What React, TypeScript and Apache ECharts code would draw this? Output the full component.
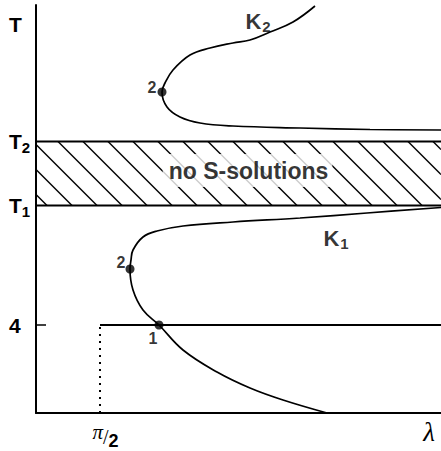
import React, { useEffect, useRef } from "react";
import * as echarts from "echarts";

// Plot extent (abstract units along λ and T)
const X_MAX = 405;
const Y_MAX = 408;

// Horizontal levels on the T axis
const T2_LEVEL = 271.5;
const T1_LEVEL = 207.5;
const T_FOUR = 88;
const T_TOP = 389;

// Positions on the λ axis
const LAMBDA_HALF_PI = 64;
const LAMBDA_LABEL_POS = 393;

// Branch K2 (above the forbidden band)
const k2Curve: [number, number][] = [
  [279, 407], [257, 391], [234, 381], [214, 373], [197, 370], [174, 365],
  [154, 358], [137, 343], [129, 330], [126, 321], [131, 306], [144, 296],
  [164, 290], [197, 287], [264, 285], [334, 283.5], [405, 283],
];

// Branch K1 (below the forbidden band)
const k1Curve: [number, number][] = [
  [405, 205.5], [331, 200], [264, 195], [197, 191], [147, 187], [121, 182],
  [107, 176], [97, 163], [95, 153], [94, 144], [97, 123], [107, 103],
  [123, 88], [147, 63], [181, 41], [214, 25], [247, 13], [291, 0],
];

// Marked points on the branches with their numbers
const markedX = [126, 94, 123];
const markedY = [321, 144, 88];
const markedText = ["2", "2", "1"];
const markedOffset: [number, number][] = [[-10, -5], [-9, -7], [-6, 13]];

// Hatching of the band between T1 and T2
const HATCH_FIRST = -53;
const HATCH_STEP = 25;

function buildHatch(): number[][] {
  const h = T2_LEVEL - T1_LEVEL;
  const segs: number[][] = [];
  for (let x0 = HATCH_FIRST; x0 <= X_MAX; x0 += HATCH_STEP) {
    let xa = x0;
    let ya = T2_LEVEL;
    let xb = x0 + h;
    let yb = T1_LEVEL;
    if (xa < 0) {
      ya = T2_LEVEL + xa;
      xa = 0;
    }
    if (xb > X_MAX) {
      yb = T1_LEVEL + (xb - X_MAX);
      xb = X_MAX;
    }
    if (xa >= xb) continue;
    segs.push([xa, ya, xb, yb]);
  }
  return segs;
}

const SANS = "Liberation Sans, Arial, Helvetica, sans-serif";
const SERIF = "Liberation Serif, Times New Roman, serif";

export default function App() {
  const ref = useRef<HTMLDivElement>(null);

  useEffect(() => {
    if (!ref.current) return;
    const chart = echarts.init(ref.current, null, { renderer: "svg" });

    const yLabelText: Record<number, string> = {
      [T_TOP]: "{t|T}",
      [T2_LEVEL]: "{t|T}{s|2}",
      [T1_LEVEL]: "{t|T}{s|1}",
      [T_FOUR]: "{t|4}",
    };
    const xLabelText: Record<number, string> = {
      [LAMBDA_HALF_PI]: "{p|π}{sl|/}{d|2}",
      [LAMBDA_LABEL_POS]: "{l|λ}",
    };

    const black = "#000";
    const flat = (data: number[][], width: number, type: any = "solid") => ({
      type: "line",
      data,
      symbol: "none",
      silent: true,
      lineStyle: { color: black, width, type },
      z: 3,
    });

    chart.setOption({
      animation: false,
      backgroundColor: "#fff",
      grid: { left: 36, top: 5, width: X_MAX, height: Y_MAX, containLabel: false },
      xAxis: {
        type: "value",
        min: 0,
        max: X_MAX,
        axisLine: { show: true, onZero: false, lineStyle: { color: black, width: 2 } },
        axisTick: { show: false },
        splitLine: { show: false },
        axisLabel: {
          show: true,
          customValues: [LAMBDA_HALF_PI, LAMBDA_LABEL_POS],
          formatter: (v: number) => xLabelText[v] ?? "",
          margin: 5,
          rich: {
            p: { fontFamily: SERIF, fontStyle: "italic", fontSize: 21, color: black, padding: [0, 0, 4, 11] },
            sl: { fontFamily: SERIF, fontSize: 20, color: black, padding: [6, 0, 0, 0] },
            d: { fontFamily: SANS, fontWeight: "bold", fontSize: 18, color: black, padding: [14, 0, 0, 0] },
            l: { fontFamily: SERIF, fontStyle: "italic", fontSize: 27, color: black },
          },
        },
      },
      yAxis: {
        type: "value",
        min: 0,
        max: Y_MAX,
        axisLine: { show: true, onZero: false, lineStyle: { color: black, width: 2 } },
        axisTick: {
          show: true,
          inside: true,
          length: 10,
          customValues: [T_FOUR],
          lineStyle: { color: black, width: 1.5 },
        },
        splitLine: { show: false },
        axisLabel: {
          show: true,
          customValues: [T_FOUR, T1_LEVEL, T2_LEVEL, T_TOP],
          formatter: (v: number) => yLabelText[v] ?? "",
          align: "left",
          margin: 27,
          rich: {
            t: { fontFamily: SANS, fontWeight: "bold", fontSize: 21, color: black },
            s: { fontFamily: SANS, fontWeight: "bold", fontSize: 15, color: black, padding: [12, 0, 0, 0] },
          },
        },
      },
      series: [
        {
          type: "custom",
          silent: true,
          clip: false,
          z: 2,
          encode: { x: [0, 2], y: [1, 3] },
          data: buildHatch(),
          renderItem: (_params: any, api: any) => {
            const a = api.coord([api.value(0), api.value(1)]);
            const b = api.coord([api.value(2), api.value(3)]);
            return {
              type: "line",
              shape: { x1: a[0], y1: a[1], x2: b[0], y2: b[1] },
              style: { stroke: black, lineWidth: 1.4 },
            };
          },
        },
        flat([[0, T2_LEVEL], [X_MAX, T2_LEVEL]], 2),
        flat([[0, T1_LEVEL], [X_MAX, T1_LEVEL]], 2),
        flat([[LAMBDA_HALF_PI, T_FOUR], [X_MAX, T_FOUR]], 2),
        flat([[LAMBDA_HALF_PI, 0], [LAMBDA_HALF_PI, T_FOUR]], 2, [2, 5]),
        {
          type: "line",
          data: k2Curve,
          smooth: 0.4,
          symbol: "none",
          silent: true,
          lineStyle: { color: black, width: 1.7 },
          z: 4,
        },
        {
          type: "line",
          data: k1Curve,
          smooth: 0.4,
          symbol: "none",
          silent: true,
          lineStyle: { color: black, width: 1.7 },
          z: 4,
        },
        {
          type: "scatter",
          z: 6,
          silent: true,
          symbol: "circle",
          symbolSize: 9,
          itemStyle: { color: black },
          data: markedX.map((x, i) => ({
            value: [x, markedY[i]],
            label: {
              show: true,
              position: "inside",
              offset: markedOffset[i],
              formatter: markedText[i],
              fontFamily: SANS,
              fontWeight: "bold",
              fontSize: 16,
              color: black,
            },
          })),
        },
        {
          type: "scatter",
          z: 8,
          silent: true,
          symbolSize: 0,
          data: [{ value: [211.5, 242.5], name: "band" }],
          label: {
            show: true,
            position: "inside",
            formatter: "no S-solutions",
            fontFamily: SANS,
            fontWeight: "bold",
            fontSize: 23,
            color: black,
            backgroundColor: "#fff",
            padding: [5, 4, 5, 6],
          },
        },
        {
          type: "scatter",
          z: 8,
          silent: true,
          symbolSize: 0,
          data: [
            { value: [222, 392], name: "{k|K}{s|2}" },
            { value: [300, 175], name: "{k|K}{s|1}" },
          ],
          label: {
            show: true,
            position: "inside",
            formatter: (p: any) => p.name,
            rich: {
              k: { fontFamily: SANS, fontWeight: "bold", fontSize: 22, color: black },
              s: { fontFamily: SANS, fontWeight: "bold", fontSize: 15, color: black, padding: [11, 0, 0, 1] },
            },
          },
        },
      ],
    });

    return () => chart.dispose();
  }, []);

  return (
    <div
      ref={ref}
      style={{ position: "absolute", left: 0, top: 0, width: 441, height: 451, background: "#fff" }}
    />
  );
}
